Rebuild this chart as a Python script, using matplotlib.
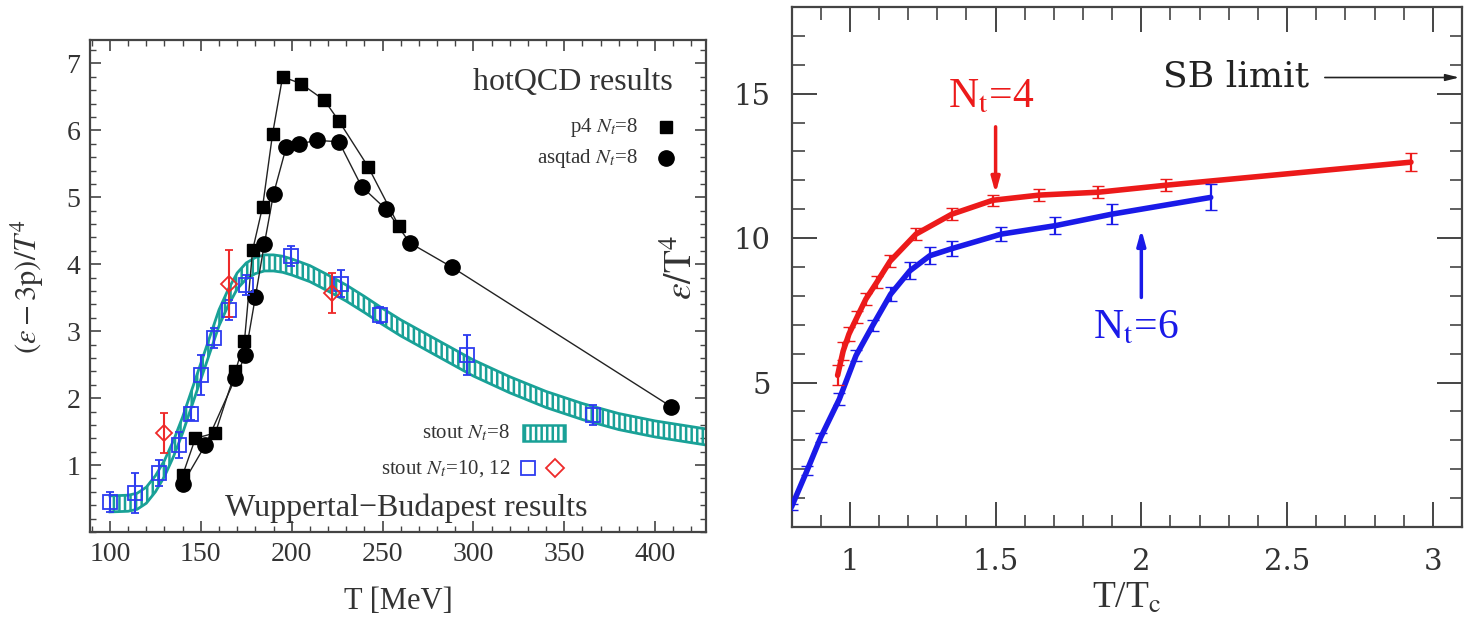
import matplotlib
matplotlib.use('Agg')
import matplotlib.pyplot as plt
from matplotlib.patches import Rectangle
from matplotlib.ticker import MultipleLocator

plt.rcParams['font.family'] = ['Liberation Serif', 'DejaVu Serif']
plt.rcParams['mathtext.fontset'] = 'stix'
plt.rcParams['hatch.linewidth'] = 1.8

# --- left panel: trace anomaly (e-3p)/T^4 ---
p4_T = [140, 147, 158, 169, 174, 178.5, 184, 189.5, 195, 205, 218, 226, 242, 259]
p4_val = [0.85, 1.40, 1.48, 2.40, 2.85, 4.21, 4.86, 5.95, 6.80, 6.70, 6.45, 6.14, 5.46, 4.57]

asq_T = [140, 152.5, 169, 174.5, 180, 185, 190, 197, 204, 214, 226, 238.5, 252, 265, 288, 409]
asq_val = [0.72, 1.30, 2.30, 2.64, 3.51, 4.31, 5.05, 5.75, 5.80, 5.85, 5.83, 5.16, 4.82, 4.32, 3.96, 1.87]

stout8_T = [100, 110, 115, 120, 125, 130, 135, 140, 145, 150, 155, 160, 165, 170, 175, 180,
            185, 190, 195, 200, 210, 220, 230, 240, 250, 260, 280, 300, 320, 340, 360, 380, 400, 428]
stout8_val = [0.42, 0.43, 0.46, 0.55, 0.72, 0.95, 1.25, 1.60, 2.00, 2.40, 2.80, 3.20, 3.50, 3.75, 3.90, 3.98,
              4.02, 4.02, 4.00, 3.96, 3.86, 3.72, 3.57, 3.40, 3.22, 3.05, 2.75, 2.45, 2.20, 1.98, 1.80, 1.65, 1.54, 1.42]
stout8_err = 0.12

sq_T = [100, 114, 127, 138, 144.5, 150, 157.4, 165.5, 174.8, 199.5, 227, 248.6, 296.5, 366]
sq_val = [0.45, 0.58, 0.88, 1.30, 1.77, 2.34, 2.90, 3.31, 3.69, 4.13, 3.71, 3.24, 2.64, 1.75]
sq_err = [0.15, 0.30, 0.20, 0.20, 0.10, 0.30, 0.15, 0.15, 0.15, 0.15, 0.20, 0.12, 0.30, 0.15]

dia_T = [130, 165.6, 222]
dia_val = [1.48, 3.71, 3.57]
dia_err = [0.30, 0.50, 0.30]

# --- right panel: energy density eps/T^4 ---
nt4_x = [0.958, 0.977, 0.997, 1.025, 1.055, 1.093, 1.138, 1.227, 1.35, 1.49, 1.65, 1.853, 2.083, 2.925]
nt4_val = [5.25, 6.09, 6.68, 7.27, 7.89, 8.48, 9.20, 10.14, 10.83, 11.31, 11.49, 11.59, 11.83, 12.63]
nt4_err = [0.35, 0.30, 0.25, 0.20, 0.20, 0.20, 0.20, 0.20, 0.20, 0.20, 0.20, 0.20, 0.20, 0.30]

nt6_x = [0.80, 0.853, 0.90, 0.964, 1.021, 1.078, 1.14, 1.206, 1.274, 1.351, 1.52, 1.704, 1.899, 2.238]
nt6_val = [0.70, 1.95, 3.10, 4.43, 5.93, 6.97, 8.06, 8.87, 9.39, 9.64, 10.14, 10.43, 10.83, 11.41]
nt6_err = [0.10, 0.15, 0.15, 0.20, 0.20, 0.20, 0.25, 0.30, 0.30, 0.25, 0.25, 0.30, 0.35, 0.45]

teal = '#19a197'
blue_pt = '#2d3cf0'
red_pt = '#ee2a2a'
red = '#ec1a1a'
blue = '#1a1ae8'
frame = '#444444'

fig = plt.figure(figsize=(14.68, 6.32), dpi=100)
axL = fig.add_axes([0.0613, 0.1582, 0.4196, 0.7785])
axR = fig.add_axes([0.5392, 0.1661, 0.4567, 0.8228])

# ---------------- left ----------------
lo = [v - stout8_err for v in stout8_val]
hi = [v + stout8_err for v in stout8_val]
axL.fill_between(stout8_T, lo, hi, facecolor='none', edgecolor=teal, hatch='|||', linewidth=0, zorder=2)
axL.plot(stout8_T, lo, color=teal, lw=2.0, zorder=2)
axL.plot(stout8_T, hi, color=teal, lw=2.0, zorder=2)

axL.plot(p4_T, p4_val, '-', color='#222222', lw=1.0, zorder=3)
axL.plot(p4_T, p4_val, 's', color='black', ms=8.5, zorder=4)
axL.plot(asq_T, asq_val, '-', color='#222222', lw=1.0, zorder=3)
axL.plot(asq_T, asq_val, 'o', color='black', ms=11, zorder=4)

axL.errorbar(sq_T, sq_val, yerr=sq_err, fmt='s', mfc='none', mec=blue_pt, ecolor=blue_pt,
             ms=9.5, mew=1.3, elinewidth=1.5, capsize=3, zorder=5)
axL.errorbar(dia_T, dia_val, yerr=dia_err, fmt='D', mfc='none', mec=red_pt, ecolor=red_pt,
             ms=8.5, mew=1.3, elinewidth=1.5, capsize=3, zorder=6)

axL.set_xlim(89, 428)
axL.set_ylim(0, 7.35)
axL.xaxis.set_major_locator(MultipleLocator(50))
axL.xaxis.set_minor_locator(MultipleLocator(10))
axL.yaxis.set_major_locator(MultipleLocator(1))
axL.yaxis.set_minor_locator(MultipleLocator(0.2))
axL.set_yticks([1, 2, 3, 4, 5, 6, 7])
axL.tick_params(which='both', direction='in', top=True, right=True, colors=frame, labelcolor='#333333',
                labelsize=20, pad=7)
axL.tick_params(which='major', length=8, width=1.2)
axL.tick_params(which='minor', length=4, width=1.0)
for s in axL.spines.values():
    s.set_color(frame)
    s.set_linewidth(1.6)

axL.set_xlabel('T [MeV]', fontsize=22, color='#333333')
axL.xaxis.set_label_coords(0.5, -0.112)
axL.set_ylabel(r'$(\varepsilon-3\mathrm{p})/T^4$', fontsize=22, color='#333333')
axL.yaxis.set_label_coords(-0.072, 0.5)

txt = dict(transform=axL.transAxes, color='#333333')
axL.text(0.946, 0.913, 'hotQCD results', ha='right', va='center', fontsize=23, **txt)
axL.text(0.89, 0.823, r'p4 $N_t$=8', ha='right', va='center', fontsize=15, **txt)
axL.text(0.89, 0.760, r'asqtad $N_t$=8', ha='right', va='center', fontsize=15, **txt)
axL.plot([0.935], [0.823], 's', color='black', ms=8.5, transform=axL.transAxes, clip_on=False)
axL.plot([0.935], [0.760], 'o', color='black', ms=11, transform=axL.transAxes, clip_on=False)

axL.text(0.682, 0.201, r'stout $N_t$=8', ha='right', va='center', fontsize=15, **txt)
axL.add_patch(Rectangle((0.703, 0.185), 0.068, 0.032, transform=axL.transAxes, facecolor='none',
                        edgecolor=teal, hatch='|||', lw=1.8))
axL.text(0.682, 0.130, r'stout $N_t$=10, 12', ha='right', va='center', fontsize=15, **txt)
axL.plot([0.711], [0.130], 's', mfc='none', mec=blue_pt, ms=9.5, mew=1.3, transform=axL.transAxes)
axL.plot([0.755], [0.130], 'D', mfc='none', mec=red_pt, ms=9, mew=1.3, transform=axL.transAxes)
axL.text(0.513, 0.049, 'Wuppertal\u2212Budapest results', ha='center', va='center', fontsize=23, **txt)

# ---------------- right ----------------
axR.plot(nt4_x, nt4_val, '-', color=red, lw=4, solid_capstyle='round', zorder=3)
axR.errorbar(nt4_x, nt4_val, yerr=nt4_err, fmt='none', ecolor=red, elinewidth=1.6, capsize=4, zorder=4)
axR.plot(nt6_x, nt6_val, '-', color=blue, lw=4, solid_capstyle='round', zorder=3)
axR.errorbar(nt6_x, nt6_val, yerr=nt6_err, fmt='none', ecolor=blue, elinewidth=1.6, capsize=4, zorder=4)

axR.annotate('', xy=(1.5, 11.45), xytext=(1.5, 13.95),
             arrowprops=dict(arrowstyle='-|>,head_width=0.25,head_length=0.9', color=red, lw=2.5))
axR.annotate('', xy=(2.0, 10.4), xytext=(2.0, 7.85),
             arrowprops=dict(arrowstyle='-|>,head_width=0.25,head_length=0.9', color=blue, lw=2.5))
axR.annotate('', xy=(3.1, 15.56), xytext=(2.62, 15.56),
             arrowprops=dict(arrowstyle='-|>,head_width=0.2,head_length=0.8', color='#222222', lw=1.2))
axR.text(2.575, 15.58, 'SB limit', ha='right', va='center', fontsize=26, family='DejaVu Serif', color='#222222')
axR.text(1.485, 14.9, r'N$_\mathrm{t}$=4', ha='center', va='center', fontsize=30, color=red)
axR.text(1.98, 6.9, r'N$_\mathrm{t}$=6', ha='center', va='center', fontsize=30, color=blue)

axR.set_xlim(0.8, 3.1)
axR.set_ylim(0, 18)
axR.xaxis.set_major_locator(MultipleLocator(0.5))
axR.xaxis.set_minor_locator(MultipleLocator(0.1))
axR.set_xticks([1, 1.5, 2, 2.5, 3])
axR.set_xticklabels(['1', '1.5', '2', '2.5', '3'])
axR.yaxis.set_major_locator(MultipleLocator(5))
axR.yaxis.set_minor_locator(MultipleLocator(1))
axR.set_yticks([5, 10, 15])
axR.tick_params(which='both', direction='in', top=True, right=True, colors=frame, labelcolor='#333333')
axR.tick_params(which='major', length=18, width=1.4, pad=15)
axR.tick_params(which='minor', length=9, width=1.2)
for lab in axR.get_xticklabels() + axR.get_yticklabels():
    lab.set_family('DejaVu Serif')
    lab.set_fontsize(21)
for s in axR.spines.values():
    s.set_color(frame)
    s.set_linewidth(1.6)

axR.set_xlabel(r'T/T$_\mathrm{c}$', fontsize=27, color='#333333')
axR.xaxis.set_label_coords(0.5, -0.105)
axR.set_ylabel(r'$\varepsilon/\mathrm{T}^4$', fontsize=27, color='#333333')
axR.yaxis.set_label_coords(-0.137, 0.5)

fig.savefig('out.png', dpi=100)
